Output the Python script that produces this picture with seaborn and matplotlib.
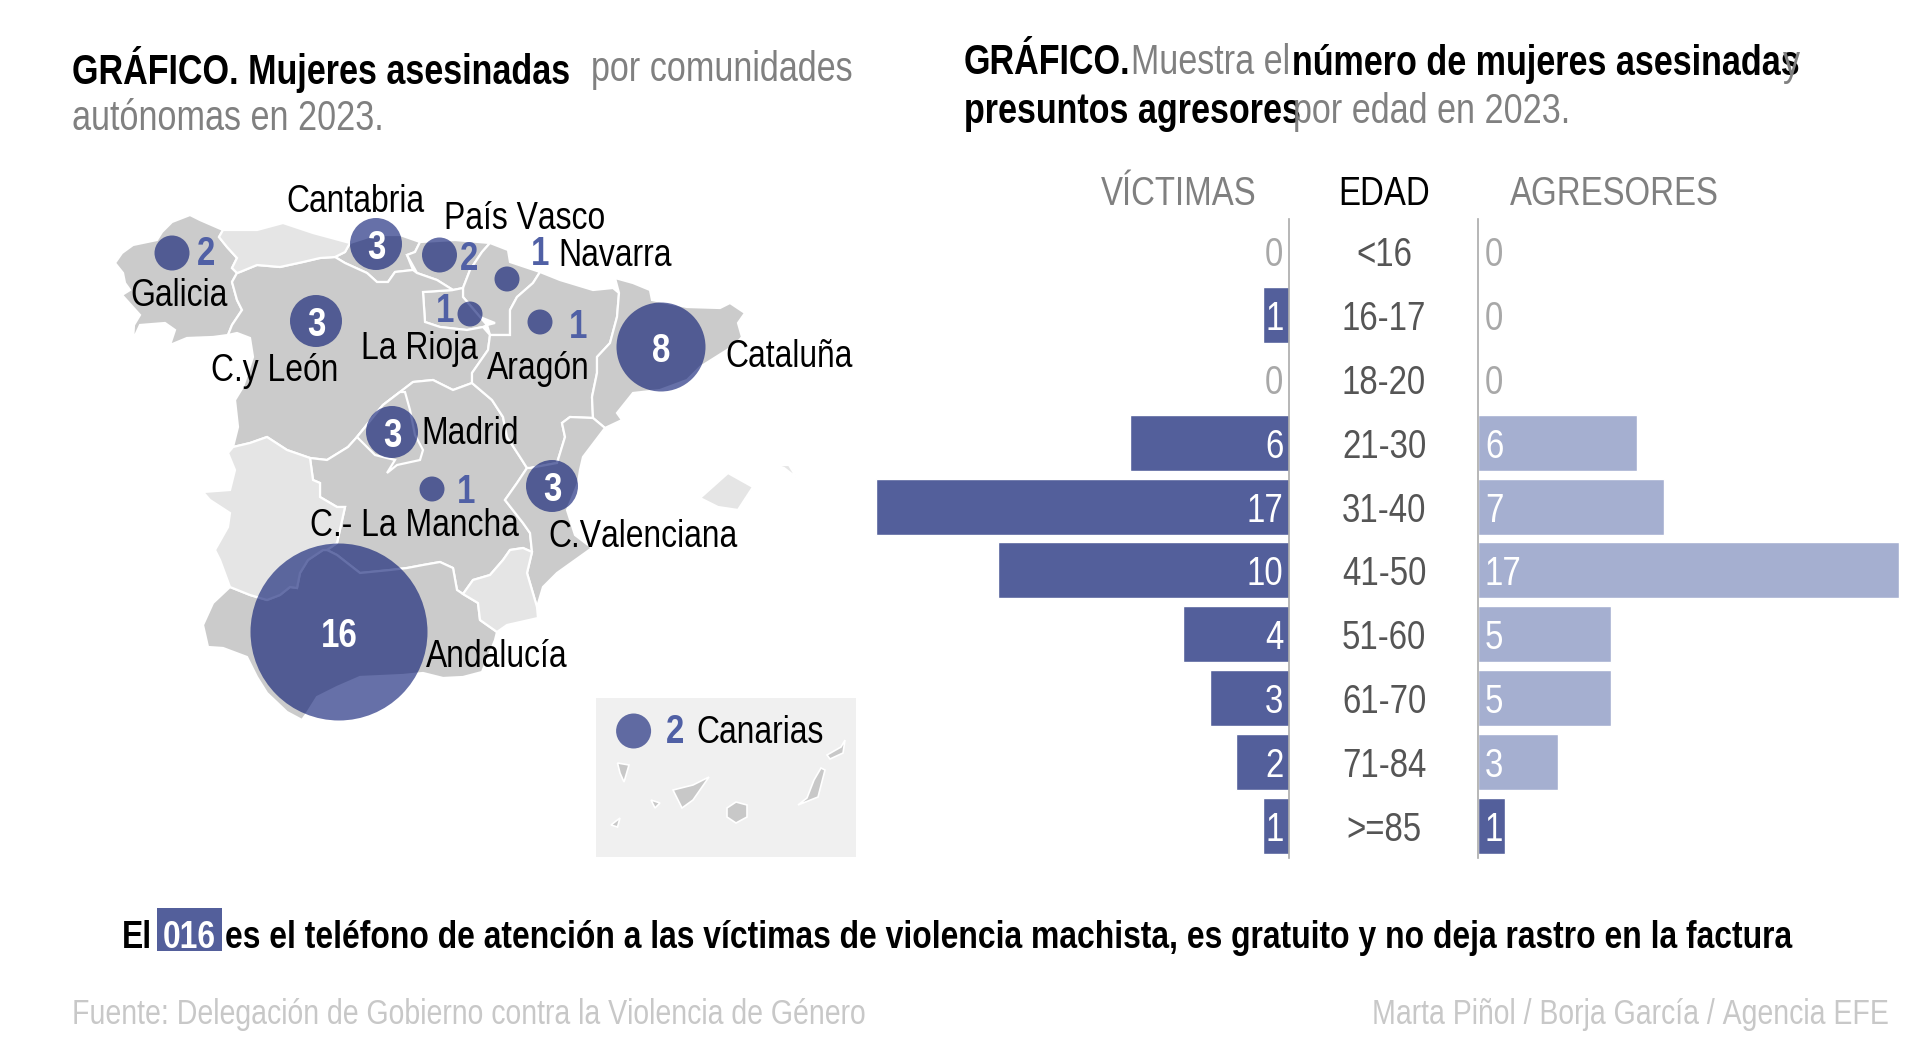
import matplotlib
matplotlib.use('Agg')
import matplotlib.pyplot as plt
import matplotlib.transforms as mtrans
import pandas as pd
import seaborn as sns
from fontTools.ttLib import TTFont
from matplotlib import font_manager
from matplotlib.patches import Polygon, Rectangle

# Datos del grafico de edades
edades = ['<16', '16-17', '18-20', '21-30', '31-40', '41-50', '51-60', '61-70', '71-84', '>=85']
victimas = [0, 1, 0, 6, 17, 10, 4, 3, 2, 1]
agresores = [0, 0, 0, 6, 7, 17, 5, 5, 3, 1]
# Las barras del original no son proporcionales a su rotulo en 31-40 y 41-50:
# aqui va el largo que se lee en la imagen
largo_victimas = [0, 1, 0, 6, 15.6, 11, 4, 3, 2, 1]
largo_agresores = [0, 0, 0, 6, 7, 15.9, 5, 5, 3, 1]

# Datos del mapa (coordenadas de mapa, en pixeles de la imagen)
comunidades = ['Galicia', 'Cantabria', 'País Vasco', 'Navarra', 'La Rioja', 'Aragón', 'C.y León',
               'Cataluña', 'Madrid', 'C.- La Mancha', 'C.Valenciana', 'Andalucía', 'Canarias']
casos = [2, 3, 2, 1, 1, 1, 3, 8, 3, 1, 3, 16, 2]
mapa_x = [172, 376, 439.5, 507, 470, 540, 316, 661, 392, 432, 552, 339, 633.6]
mapa_y = [253, 244, 255, 279, 314, 322, 321, 347, 432, 489, 486, 632, 731]
nombre_x = [179, 355, 525, 615.5, 419, 538, 275, 789, 470, 414, 642.6, 497, 760]
nombre_y = [292, 198, 215, 252, 345, 365, 367, 353, 430, 522, 533, 653, 729]
cifra_x = [206, 376, 468.6, 540, 444.6, 578, 316, 661, 392, 466, 552, 339, 675]
cifra_y = [250, 244, 255, 250, 307, 323, 321, 347, 432, 488, 486, 632, 728]

# Contornos de las comunidades
galicia = [(115, 263), (122, 253), (133, 245), (157, 240), (162, 232), (172, 222), (190, 215), (200, 220), (223, 230),
           (219, 237), (227, 247), (237, 258), (232, 268), (237, 273), (232, 282), (237, 300), (242, 310), (232, 325),
           (228, 335), (213, 337), (187, 338), (170, 345), (175, 330), (165, 323), (140, 325), (133, 340), (134, 325),
           (140, 315), (122, 295), (130, 290), (125, 283), (123, 273)]
asturias = [(223, 230), (257, 230), (283, 223), (313, 233), (350, 243), (345, 252), (335, 257), (320, 258), (303, 262),
            (280, 267), (257, 265), (240, 272), (237, 273), (232, 268), (237, 258), (227, 247), (219, 237)]
cantabria = [(350, 243), (375, 235), (400, 235), (420, 242), (415, 252), (407, 255), (413, 270), (395, 272), (388, 282),
             (377, 282), (367, 273), (345, 263), (335, 257), (345, 252)]
pais_vasco = [(420, 242), (455, 240), (490, 243), (482, 252), (470, 270), (463, 288), (453, 290), (437, 280),
              (417, 273), (407, 255), (415, 252)]
navarra = [(490, 243), (508, 250), (510, 262), (540, 272), (533, 283), (517, 297), (510, 310), (510, 335), (490, 335),
           (487, 325), (495, 323), (480, 317), (463, 297), (463, 288), (470, 270), (482, 252)]
la_rioja = [(423, 292), (453, 290), (463, 288), (463, 297), (480, 317), (487, 325), (483, 327), (467, 330), (440, 327),
            (425, 322)]
cyl = [(237, 273), (240, 272), (257, 265), (280, 267), (303, 262), (320, 258), (335, 257), (345, 263), (367, 273),
       (377, 282), (388, 282), (395, 272), (413, 270), (417, 273), (437, 280), (453, 290), (423, 292), (425, 322),
       (440, 327), (467, 330), (483, 327), (490, 335), (488, 350), (472, 373), (472, 383), (453, 390), (433, 380),
       (413, 382), (400, 392), (383, 405), (357, 437), (348, 447), (327, 460), (310, 458), (287, 450), (267, 437),
       (250, 443), (233, 447), (238, 427), (235, 400), (243, 387), (253, 357), (250, 338), (237, 333), (228, 335),
       (232, 325), (242, 310), (237, 300), (232, 282)]
madrid = [(400, 392), (405, 392), (410, 410), (415, 435), (423, 450), (420, 460), (397, 465), (387, 473), (395, 460),
          (375, 455), (357, 437), (383, 405)]
clm = [(472, 383), (492, 400), (503, 417), (507, 437), (520, 457), (527, 468), (517, 483), (505, 500), (523, 523),
       (530, 533), (532, 552), (523, 548), (510, 550), (503, 560), (490, 575), (473, 580), (463, 594), (457, 590),
       (453, 568), (440, 562), (423, 565), (407, 568), (390, 570), (360, 573), (337, 555), (327, 550), (337, 543),
       (345, 507), (337, 507), (320, 497), (320, 483), (313, 480), (310, 458), (327, 460), (348, 447), (357, 437),
       (383, 405), (400, 392), (413, 382), (433, 380), (453, 390)]
aragon = [(540, 272), (560, 280), (593, 290), (613, 288), (619, 293), (617, 317), (610, 343), (597, 357), (597, 373),
          (592, 397), (593, 418), (570, 417), (562, 423), (565, 437), (557, 463), (530, 468), (527, 468), (520, 457),
          (507, 437), (503, 417), (492, 400), (472, 383), (472, 373), (488, 350), (490, 335), (510, 335), (510, 310),
          (517, 297), (533, 283)]
cataluna = [(615, 278), (633, 283), (650, 290), (652, 300), (687, 307), (720, 308), (730, 303), (745, 313), (738, 323),
            (742, 337), (735, 345), (700, 367), (687, 380), (660, 390), (633, 393), (617, 413), (622, 420), (605, 428),
            (593, 418), (592, 397), (597, 373), (597, 357), (610, 343), (617, 317), (619, 293)]
valencia = [(570, 417), (593, 418), (605, 428), (583, 457), (580, 470), (578, 483), (567, 510), (575, 535), (592, 548),
            (557, 573), (543, 587), (537, 607), (527, 573), (532, 552), (530, 533), (523, 523), (505, 500), (517, 483),
            (527, 468), (530, 468), (557, 463), (565, 437), (562, 423)]
murcia = [(463, 594), (473, 580), (490, 575), (503, 560), (510, 550), (523, 548), (532, 552), (527, 573), (537, 607),
          (538, 618), (507, 625), (497, 632), (480, 620), (478, 603)]
extremadura = [(233, 447), (250, 443), (267, 437), (287, 450), (310, 458), (313, 480), (320, 483), (320, 497), (337, 507),
               (345, 507), (337, 543), (327, 550), (323, 550), (308, 560), (300, 573), (297, 588), (290, 587), (280, 595),
               (267, 600), (250, 595), (230, 587), (220, 560), (215, 550), (228, 527), (230, 513), (210, 500), (203, 492),
               (230, 490), (235, 470), (228, 453)]
andalucia = [(203, 625), (213, 603), (230, 587), (250, 595), (267, 600), (280, 595), (290, 587), (297, 588), (300, 573),
             (308, 560), (323, 550), (327, 550), (337, 555), (360, 573), (390, 570), (407, 568), (423, 565), (440, 562),
             (453, 568), (457, 590), (463, 594), (478, 603), (480, 620), (497, 632), (495, 640), (482, 672), (463, 677),
             (443, 678), (423, 673), (403, 675), (360, 677), (337, 687), (317, 697), (307, 713), (302, 720), (287, 712),
             (267, 693), (257, 677), (247, 657), (223, 648), (208, 647)]
mallorca = [(700, 498), (728, 473), (753, 487), (738, 510), (718, 507)]
menorca = [(774, 465), (789, 465), (797, 478), (784, 468)]
la_palma = [(617.5, 763), (629, 765), (624, 782), (620, 773)]
tenerife = [(673, 790), (693, 785), (709, 777), (693, 800), (682, 808)]
gomera = [(651, 800), (660, 803), (655, 808)]
gran_canaria = [(727, 808), (736, 802), (747, 805), (747, 817), (736, 823), (727, 817)]
fuerteventura = [(821, 768), (825, 770), (818, 797), (798, 805), (807, 798), (814, 780)]
lanzarote = [(827, 755), (841, 747), (845, 740), (843, 753), (830, 759)]
hierro = [(611, 825), (620, 818), (617.5, 827)]

oscuras = [galicia, cantabria, pais_vasco, navarra, la_rioja, cyl, clm, madrid, aragon, cataluna, valencia, andalucia]
claras = [asturias, extremadura, murcia, mallorca, menorca]
islas = [la_palma, tenerife, gomera, gran_canaria, fuerteventura, lanzarote, hierro]


def fuente_estrecha(peso, salida, factor=0.82):
    # Liberation Sans Narrow no esta instalada: se estrecha Liberation Sans
    ruta = font_manager.findfont(font_manager.FontProperties(family='Liberation Sans', weight=peso))
    f = TTFont(ruta)
    for tabla in ('kern', 'GPOS', 'fpgm', 'prep', 'cvt ', 'hdmx', 'VDMX', 'LTSH'):
        if tabla in f:
            del f[tabla]
    glifos = f['glyf']
    for nombre in glifos.keys():
        g = glifos[nombre]
        if g.isComposite():
            for c in g.components:
                c.x = int(c.x * factor)
        elif g.numberOfContours > 0:
            g.coordinates.scale((factor, 1))
            g.removeHinting()
        if g.numberOfContours != 0:
            g.recalcBounds(glifos)
        ancho, lsb = f['hmtx'][nombre]
        f['hmtx'][nombre] = (int(ancho * factor), int(lsb * factor))
    for rec in f['name'].names:
        if rec.nameID in (1, 16):
            rec.string = 'Estrecha'
        elif rec.nameID in (3, 4, 6):
            rec.string = 'Estrecha ' + peso
    f.save(salida)
    font_manager.fontManager.addfont(salida)


fuente_estrecha('normal', 'estrecha_normal.ttf')
fuente_estrecha('bold', 'estrecha_bold.ttf')

sns.set_theme(style='white')
plt.rcParams['font.family'] = ['Estrecha', 'Liberation Sans', 'DejaVu Sans']

AZUL = '#535f9b'
AZUL_CLARO = '#a5afd0'
AZUL_CIFRA = '#5060a5'
GRIS = '#808080'
ANCHO, ALTO = 1920, 1056
FS = 28
FS_NUM = 29
FS_TIT = 30
FS_PIE = 25
VA = 'center_baseline'

fig = plt.figure(figsize=(19.2, 10.56), dpi=100, facecolor='white')

# Capa general en pixeles: mapa y textos
ax = fig.add_axes([0, 0, 1, 1])
ax.set_xlim(0, ANCHO)
ax.set_ylim(ALTO, 0)
ax.axis('off')

ax.add_patch(Rectangle((596, 698), 260, 159, facecolor='#f0f0f0', edgecolor='none', zorder=1))
for p in oscuras:
    ax.add_patch(Polygon(p, closed=True, facecolor='#cbcbcb', edgecolor='white', linewidth=1.6, zorder=2))
for p in claras:
    ax.add_patch(Polygon(p, closed=True, facecolor='#e5e5e5', edgecolor='white', linewidth=1.6, zorder=2))
for p in islas:
    ax.add_patch(Polygon(p, closed=True, facecolor='#c8c8c8', edgecolor='white', linewidth=1.2, zorder=2))

# Circulos: el diametro crece con los casos
mapa = pd.DataFrame({'comunidad': comunidades, 'casos': casos, 'x': mapa_x, 'y': mapa_y})
diametros = {1: 25, 2: 35, 3: 52, 8: 89, 16: 177}
tamanos = {k: (d * 0.72) ** 2 for k, d in diametros.items()}
sns.scatterplot(data=mapa, x='x', y='y', size='casos', sizes=tamanos, color='#00116e', alpha=0.6,
                linewidth=0, legend=False, ax=ax, zorder=3)
ax.set_xlim(0, ANCHO)
ax.set_ylim(ALTO, 0)

for i, nombre in enumerate(comunidades):
    ax.text(nombre_x[i], nombre_y[i], nombre, fontsize=FS, color='black', ha='center', va=VA, zorder=5)
    dentro = casos[i] >= 3
    ax.text(cifra_x[i], cifra_y[i], str(casos[i]), fontsize=FS_NUM, fontweight='bold', ha='center', va=VA,
            color='white' if dentro else AZUL_CIFRA, zorder=5)

# Barras de edades
y_arriba, y_abajo = 219, 858
escala = 26.5  # px por unidad


def ejes_barras(x0, x1):
    a = fig.add_axes([x0 / ANCHO, 1 - y_abajo / ALTO, (x1 - x0) / ANCHO, (y_abajo - y_arriba) / ALTO])
    a.patch.set_alpha(0)
    return a


ax_izq = ejes_barras(860, 1289)
ax_der = ejes_barras(1478, 1905)
tabla = pd.DataFrame({'edad': edades, 'vict': largo_victimas, 'agr': largo_agresores})
colores_izq = [AZUL] * len(edades)
colores_der = [AZUL_CLARO] * (len(edades) - 1) + [AZUL]
sns.barplot(data=tabla, y='edad', x='vict', hue='edad', palette=colores_izq, width=0.875, legend=False,
            ax=ax_izq, orient='h', saturation=1)
sns.barplot(data=tabla, y='edad', x='agr', hue='edad', palette=colores_der, width=0.875, legend=False,
            ax=ax_der, orient='h', saturation=1)
ax_izq.set_xlim((1289 - 860) / escala, 0)
ax_der.set_xlim(0, (1905 - 1478) / escala)
for a, lado in ((ax_izq, 'right'), (ax_der, 'left')):
    a.set_ylim(len(edades) - 0.5, -0.5)
    a.set_xlabel('')
    a.set_ylabel('')
    a.set_xticks([])
    a.set_yticks([])
    sns.despine(ax=a, left=True, right=True, top=True, bottom=True)
    a.spines[lado].set_visible(True)
    a.spines[lado].set_color('#aaaaaa')
    a.spines[lado].set_linewidth(1.2)

tr = mtrans.blended_transform_factory(ax.transData, ax_der.transData)
for i in range(len(edades)):
    ax_izq.annotate(str(victimas[i]), (0, i), xytext=(-4, 0), textcoords='offset points', ha='right', va=VA,
                    fontsize=FS_NUM, color='white' if victimas[i] else '#a8a8a8')
    ax_der.annotate(str(agresores[i]), (0, i), xytext=(5, 0), textcoords='offset points', ha='left', va=VA,
                    fontsize=FS_NUM, color='white' if agresores[i] else '#a8a8a8')
    ax.text(1384, i, edades[i], transform=tr, fontsize=FS_NUM, color='#555555', ha='center', va=VA)

ax.text(1179, 190, 'VÍCTIMAS', fontsize=FS_NUM, color=GRIS, ha='center', va=VA)
ax.text(1384, 190, 'EDAD', fontsize=FS_NUM, color='black', ha='center', va=VA)
ax.text(1614, 190, 'AGRESORES', fontsize=FS_NUM, color=GRIS, ha='center', va=VA)

# Titulos
ax.text(72, 65, 'GRÁFICO. Mujeres asesinadas', fontsize=FS_TIT, fontweight='bold', color='black', va=VA)
ax.text(591, 65, 'por comunidades', fontsize=FS_TIT, color=GRIS, va=VA)
ax.text(72, 115, 'autónomas en 2023.', fontsize=FS_TIT, color=GRIS, va=VA)
ax.text(964, 59, 'GRÁFICO.', fontsize=FS_TIT, fontweight='bold', color='black', va=VA)
ax.text(1131, 59, 'Muestra el', fontsize=FS_TIT, color=GRIS, va=VA)
ax.text(1292, 59, 'número de mujeres asesinadas', fontsize=FS_TIT, fontweight='bold', color='black', va=VA)
ax.text(1783, 59, 'y', fontsize=FS_TIT, color=GRIS, va=VA)
ax.text(964, 107, 'presuntos agresores', fontsize=FS_TIT, fontweight='bold', color='black', va=VA)
ax.text(1293, 107, 'por edad en 2023.', fontsize=FS_TIT, color=GRIS, va=VA)

# Pie
ax.add_patch(Rectangle((157, 908), 65, 43, facecolor=AZUL, edgecolor='none', zorder=1))
ax.text(122, 934, 'El', fontsize=FS, fontweight='bold', color='black', va=VA)
ax.text(189.5, 934, '016', fontsize=FS, fontweight='bold', color='white', ha='center', va=VA, zorder=3)
ax.text(225, 934, 'es el teléfono de atención a las víctimas de violencia machista, es gratuito y no deja rastro en la factura',
        fontsize=FS, fontweight='bold', color='black', va=VA)
ax.text(72, 1011, 'Fuente: Delegación de Gobierno contra la Violencia de Género', fontsize=FS_PIE, color='#c8c8c8', va=VA)
ax.text(1889, 1011, 'Marta Piñol / Borja García / Agencia EFE', fontsize=FS_PIE, color='#c8c8c8', ha='right', va=VA)

plt.savefig('out.png', dpi=100)
